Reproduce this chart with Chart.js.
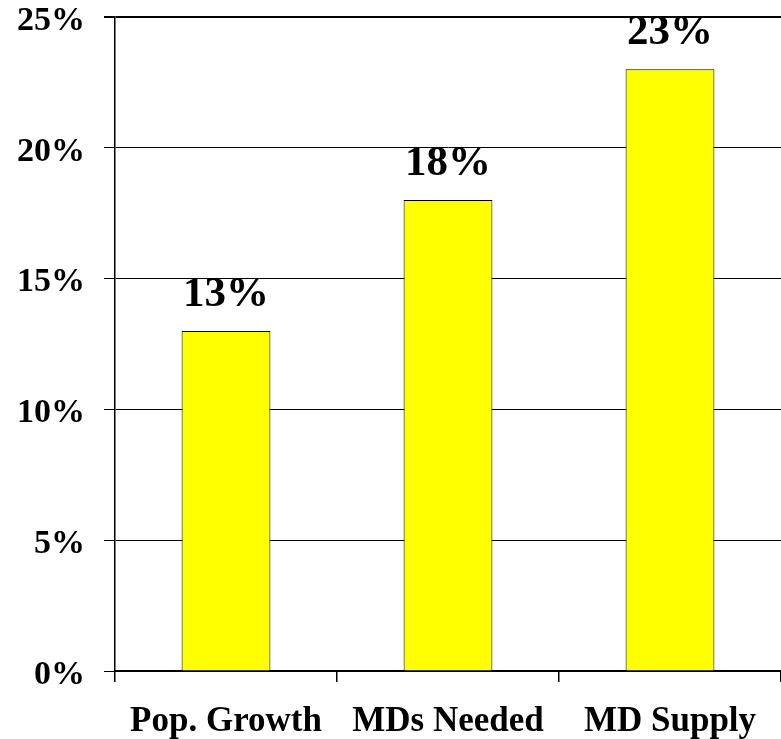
<!DOCTYPE html>
<html>
<head>
<meta charset="utf-8">
<script src="https://cdn.jsdelivr.net/npm/chart.js@4/dist/chart.umd.min.js"></script>
<style>
  html, body { margin: 0; padding: 0; background: #fff; }
  #wrap { width: 781px; height: 739px; position: relative; }
</style>
</head>
<body>
<div id="wrap"><canvas id="c" width="781" height="739"></canvas></div>
<script>
// Percentage growth by measure
const categories = ['Pop. Growth', 'MDs Needed', 'MD Supply'];
const growthValues = [13, 18, 23];
const yTicks = [0, 5, 10, 15, 20, 25];

const FONT = "'Liberation Serif', 'Times New Roman', serif";

// Writes each bar's value as a percentage above its top edge
const valueLabels = {
  id: 'valueLabels',
  afterDatasetsDraw(chart) {
    const ctx = chart.ctx;
    const meta = chart.getDatasetMeta(0);
    ctx.save();
    ctx.fillStyle = '#000';
    ctx.font = 'bold 43px ' + FONT;
    ctx.textAlign = 'center';
    ctx.textBaseline = 'alphabetic';
    meta.data.forEach((bar, i) => {
      ctx.fillText(growthValues[i] + '%', bar.x, bar.y - 25);
    });
    ctx.restore();
  }
};

new Chart(document.getElementById('c'), {
  type: 'bar',
  data: {
    labels: categories,
    datasets: [{
      data: growthValues,
      backgroundColor: '#FFFF00',
      borderColor: '#000',
      borderWidth: 1,
      categoryPercentage: 1,
      barPercentage: 0.4
    }]
  },
  options: {
    responsive: false,
    animation: false,
    layout: { padding: { top: 17, right: 0, bottom: 0, left: 0 } },
    plugins: { legend: { display: false }, tooltip: { enabled: false } },
    scales: {
      x: {
        grid: { display: true, offset: true, drawOnChartArea: false, color: '#000', tickLength: 11, lineWidth: 1.5 },
        border: { display: true, color: '#000', width: 2 },
        ticks: { color: '#000', padding: 19, font: { family: FONT, size: 35, weight: 'bold' }, maxRotation: 0 },
        afterFit(scale) {
          scale.height = 68;
          scale.paddingLeft = 0;
          scale.paddingRight = 0;
        }
      },
      y: {
        min: 0,
        max: 25,
        afterBuildTicks(scale) { scale.ticks = yTicks.map(v => ({ value: v })); },
        grid: { color: '#000', lineWidth: (c) => (c.tick && c.tick.value === 25 ? 2 : 1), tickLength: 11 },
        border: { display: true, color: '#000', width: 1.5 },
        ticks: {
          color: '#000',
          padding: 19,
          labelOffset: 4,
          font: { family: FONT, size: 34, weight: 'bold', lineHeight: 1 },
          callback: (v) => v + '%'
        },
        afterFit(scale) {
          scale.width = 115;
          scale.paddingTop = 0;
          scale.paddingBottom = 0;
        }
      }
    }
  },
  plugins: [valueLabels]
});
</script>
</body>
</html>
